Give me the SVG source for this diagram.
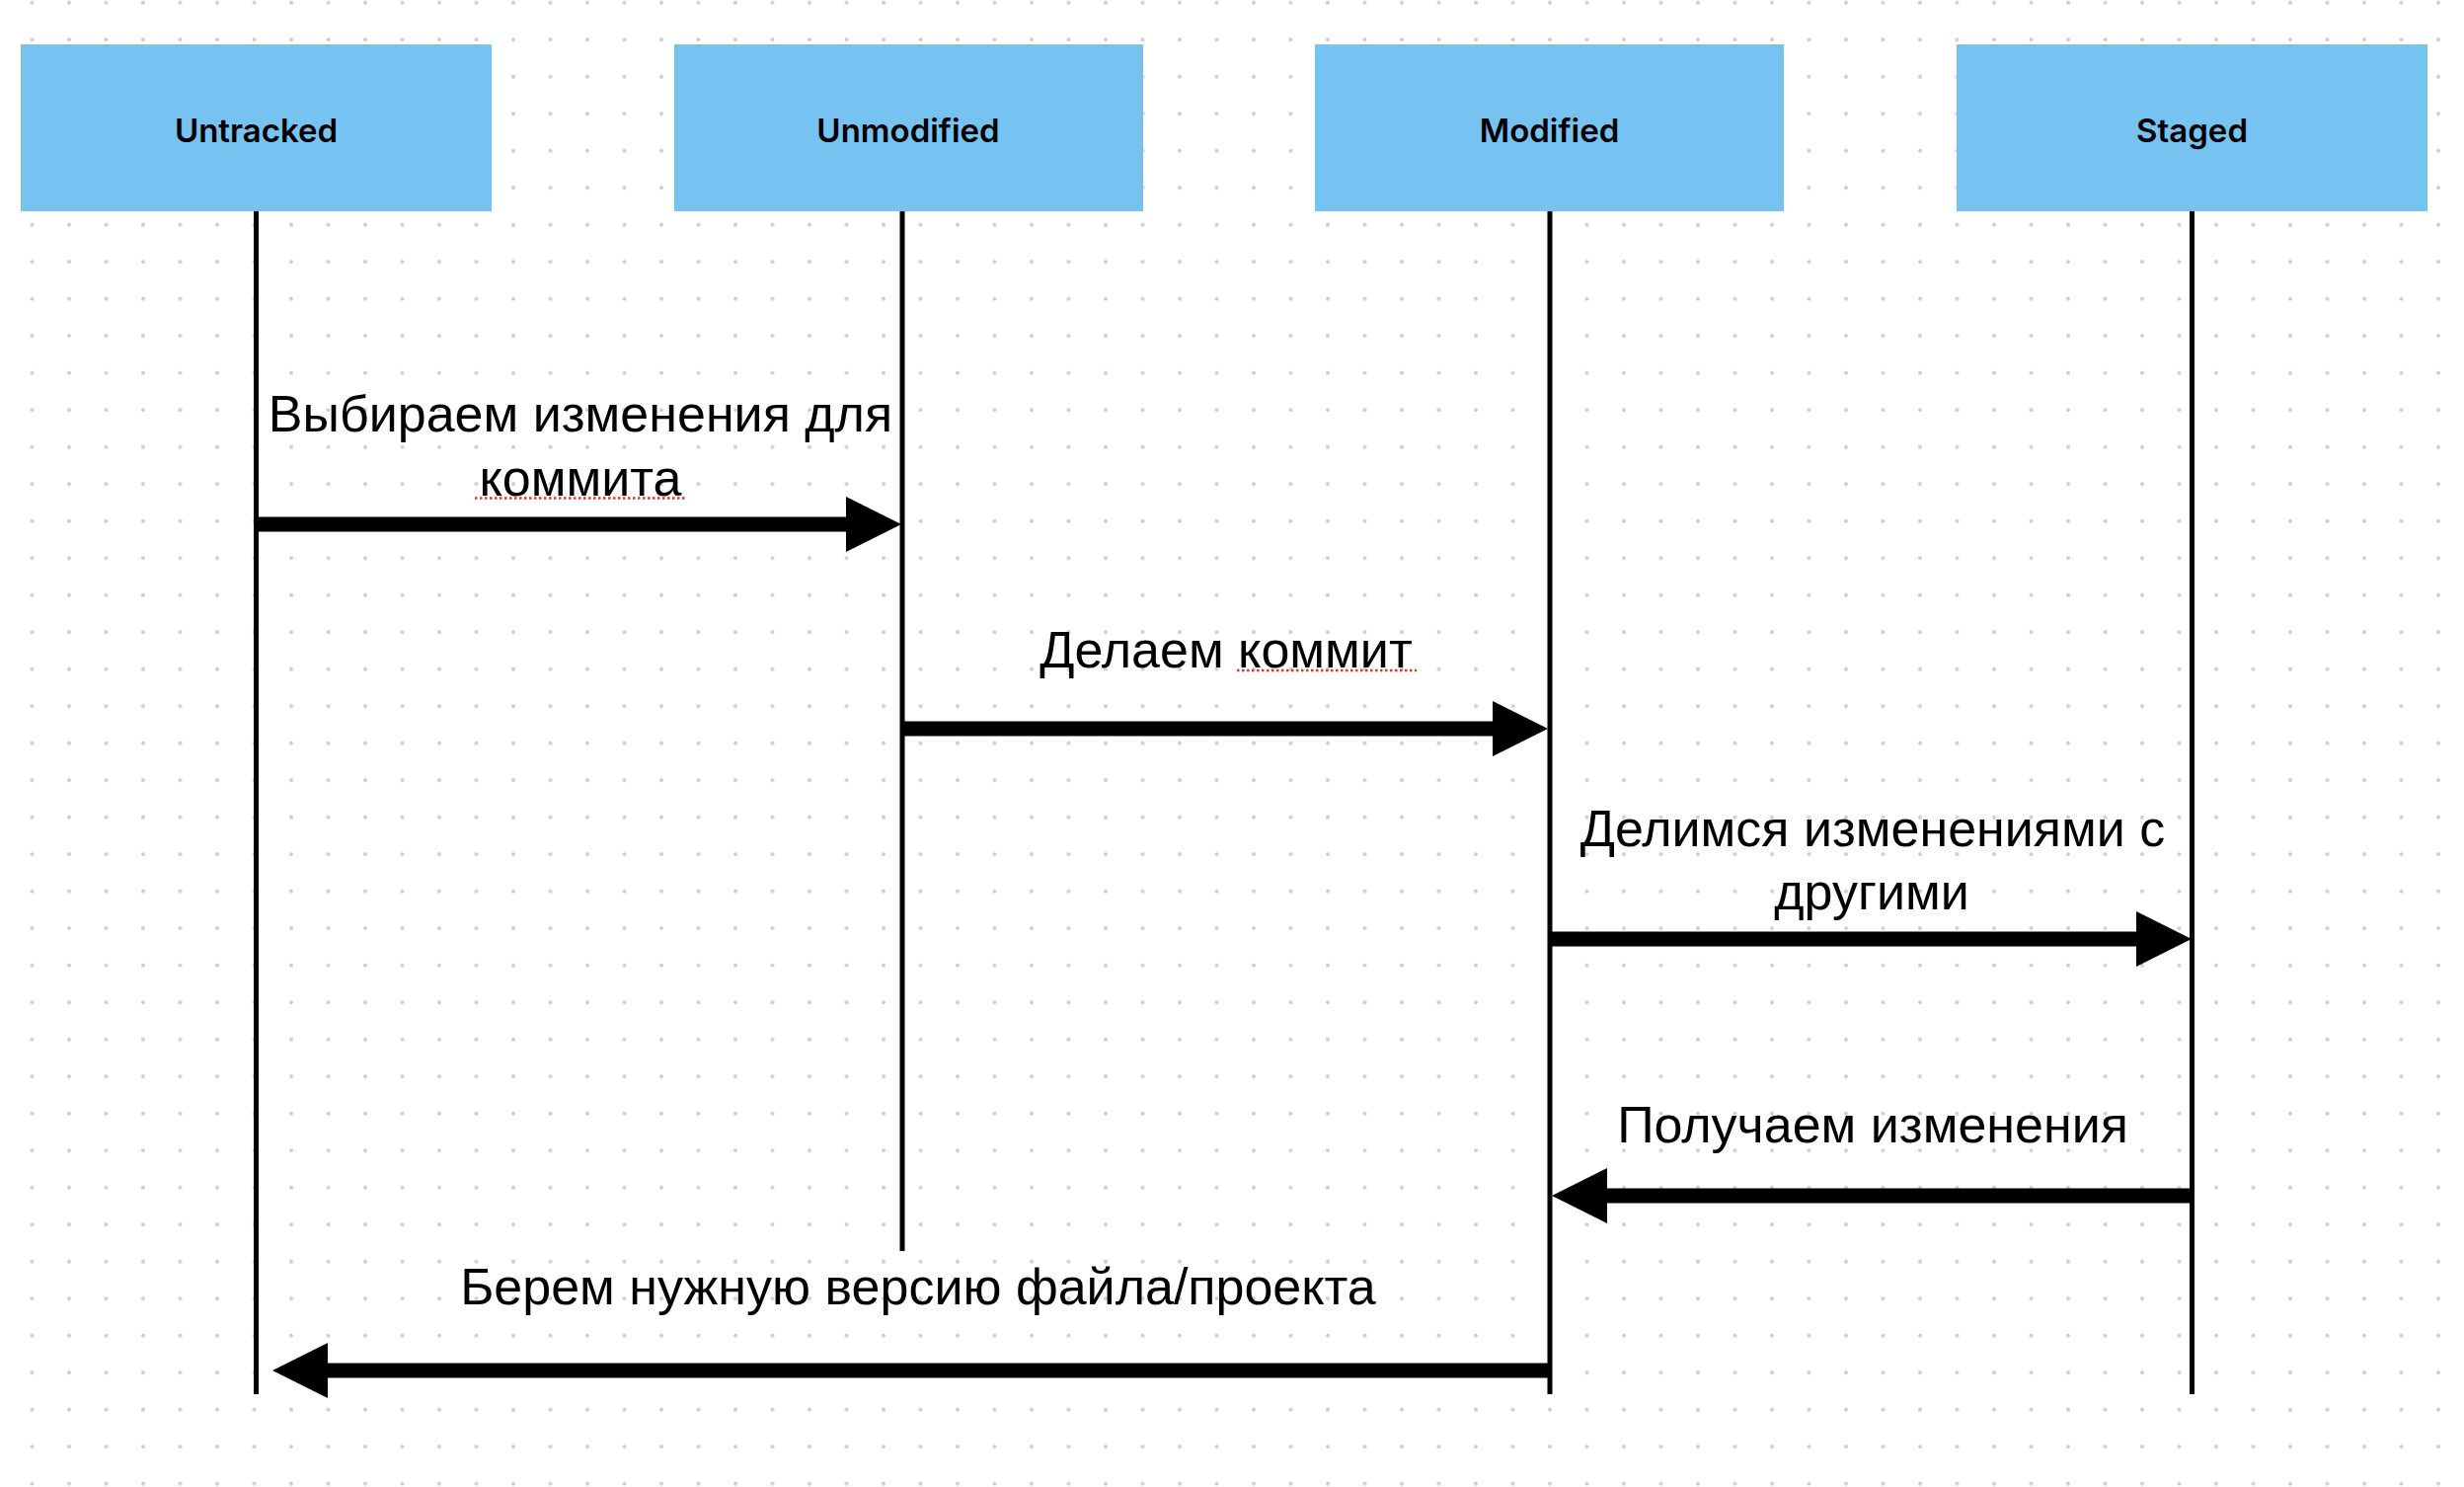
<svg xmlns="http://www.w3.org/2000/svg" width="2496" height="1506" viewBox="0 0 2496 1506">
  <defs>
    <pattern id="dots" x="13.75" y="-16.05" width="37.5" height="37.5" patternUnits="userSpaceOnUse">
      <circle cx="18.75" cy="18.75" r="2" fill="#cdcdcd"/>
    </pattern>
    <marker id="head" markerUnits="userSpaceOnUse" markerWidth="58" markerHeight="58" refX="2" refY="28" orient="auto">
      <path d="M0,0 L56,28 L0,56 Z" fill="#000"/>
    </marker>
    <style>
      .box { fill: #76C2F0; }
      .boxlabel { font-family: Inter, "Liberation Sans", sans-serif; font-weight: 600; font-size: 33px; fill: #000; text-anchor: middle; }
      .life { stroke: #000; stroke-width: 5; fill: none; }
      .msg { stroke: #000; stroke-width: 15; fill: none; marker-end: url(#head); }
      .label { font-family: "Liberation Sans", Arial, sans-serif; font-size: 52px; fill: #000; text-anchor: middle; }
      .squiggle { stroke: #e5332a; stroke-width: 2.5; stroke-dasharray: 2.5 2.5; fill: none; }
    </style>
  </defs>
  <rect width="2496" height="1506" fill="#ffffff"/>
  <rect width="2496" height="1506" fill="url(#dots)"/>

  <g id="lifelines">
    <line class="life" x1="259.5" y1="210" x2="259.5" y2="1412"/>
    <line class="life" x1="914" y1="210" x2="914" y2="1267"/>
    <line class="life" x1="1570" y1="210" x2="1570" y2="1412"/>
    <line class="life" x1="2220.5" y1="210" x2="2220.5" y2="1412"/>
  </g>

  <g id="untracked">
    <rect class="box" x="21" y="45" width="477" height="169"/>
    <text class="boxlabel" x="259.5" y="143.5">Untracked</text>
  </g>
  <g id="unmodified">
    <rect class="box" x="683" y="45" width="475" height="169"/>
    <text class="boxlabel" x="920" y="143.5">Unmodified</text>
  </g>
  <g id="modified">
    <rect class="box" x="1332" y="45" width="475" height="169"/>
    <text class="boxlabel" x="1569.5" y="143.5">Modified</text>
  </g>
  <g id="staged">
    <rect class="box" x="1982" y="45" width="477" height="169"/>
    <text class="boxlabel" x="2220.5" y="143.5">Staged</text>
  </g>

  <g id="connectors">
    <line class="msg" x1="259" y1="531" x2="859" y2="531"/>
    <line class="msg" x1="914" y1="738" x2="1514" y2="738"/>
    <line class="msg" x1="1570" y1="951" x2="2166" y2="951"/>
    <line class="msg" x1="2221" y1="1211" x2="1626" y2="1211"/>
    <line class="msg" x1="1570" y1="1388" x2="330" y2="1388"/>
  </g>

  <g id="labels">
    <text class="label" x="588" y="437">Выбираем изменения для</text>
    <text class="label" x="588" y="501.5">коммита</text>
    <path class="squiggle" d="M481,504.5 H694"/>
    <text class="label" x="1242" y="676">Делаем коммит</text>
    <path class="squiggle" d="M1253,679 H1435"/>
    <text class="label" x="1897" y="857">Делимся изменениями с</text>
    <text class="label" x="1896" y="921">другими</text>
    <text class="label" x="1897" y="1157">Получаем изменения</text>
    <text class="label" x="930" y="1321">Берем нужную версию файла/проекта</text>
  </g>
</svg>
